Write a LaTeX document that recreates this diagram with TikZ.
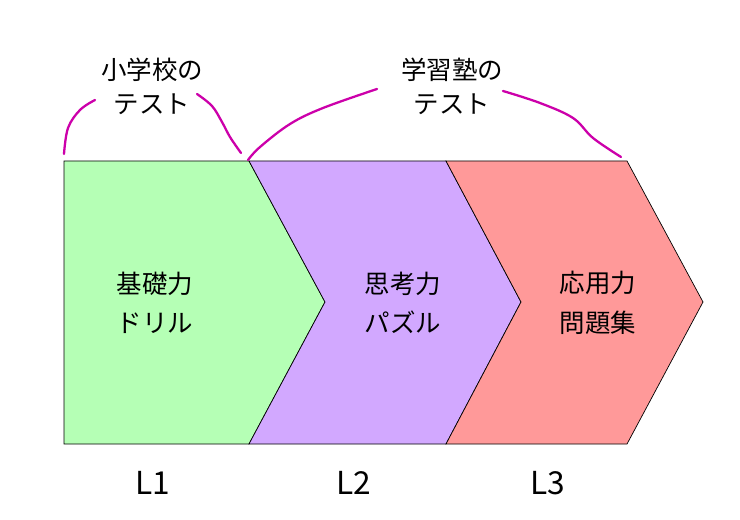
\documentclass[tikz,border=0pt]{standalone}
\usepackage{fontspec}
\newfontfamily\jpfont{Noto Sans CJK JP}
\usepackage{xcolor}
\usetikzlibrary{positioning,calc}

\definecolor{verde}{RGB}{181,255,181}
\definecolor{lila}{RGB}{210,168,255}
\definecolor{rojo}{RGB}{255,153,153}
\definecolor{llavecol}{RGB}{204,0,170}

\begin{document}
\begin{tikzpicture}[x=0.02cm, y=-0.02cm]
  \tikzstyle{etapa}=[draw=black, line width=0.4pt]
  \tikzstyle{texto}=[font=\jpfont\fontsize{14.5}{22.5}\selectfont, align=center, inner sep=0pt]
  \tikzstyle{examen}=[font=\jpfont\fontsize{14.5}{19.5}\selectfont, align=center, inner sep=0pt]
  \tikzstyle{nivel}=[font=\jpfont\fontsize{18}{20}\selectfont, inner sep=0pt]
  \tikzstyle{llave}=[draw=llavecol, line width=1.3pt, line cap=round]

  \useasboundingbox (0,0) rectangle (740,520);

  % Etapas
  \path[etapa, fill=verde] (64,161) -- (249,161) -- (325,302) -- (249,444) -- (64,444) -- cycle;
  \path[etapa, fill=lila] (249,161) -- (446,161) -- (521,302) -- (446,444) -- (249,444) -- (325,302) -- cycle;
  \path[etapa, fill=rojo] (446,161) -- (627,161) -- (703,302) -- (627,444) -- (446,444) -- (521,302) -- cycle;

  % Contenidos
  \node[texto] (basico) at (155,303) {基礎力\\ドリル};
  \node[texto] (pensar) at (403,303) {思考力\\パズル};
  \node[texto] (aplicar) at (598,303) {応用力\\問題集};

  % Niveles
  \node[nivel] (l1) at (153,483) {L1};
  \node[nivel] (l2) at (354,483) {L2};
  \node[nivel] (l3) at (548,483) {L3};

  % Examenes
  \node[examen] (escuela) at (152,86) {小学校の\\テスト};
  \node[examen] (academia) at (452,86) {学習塾の\\テスト};

  % Llaves
  \draw[llave] plot[smooth, tension=0.6] coordinates {(64,154) (68,128) (80,110) (95,100)};
  \draw[llave] plot[smooth, tension=0.6] coordinates {(197,94) (212,106) (222,122) (230,137) (241,153)};
  \draw[llave] plot[smooth, tension=0.6] coordinates {(248,160) (260,147) (290,124) (323,108) (377,89)};
  \draw[llave] plot[smooth, tension=0.6] coordinates {(503,91) (540,103) (573,118) (593,138) (621,157)};
\end{tikzpicture}
\end{document}
